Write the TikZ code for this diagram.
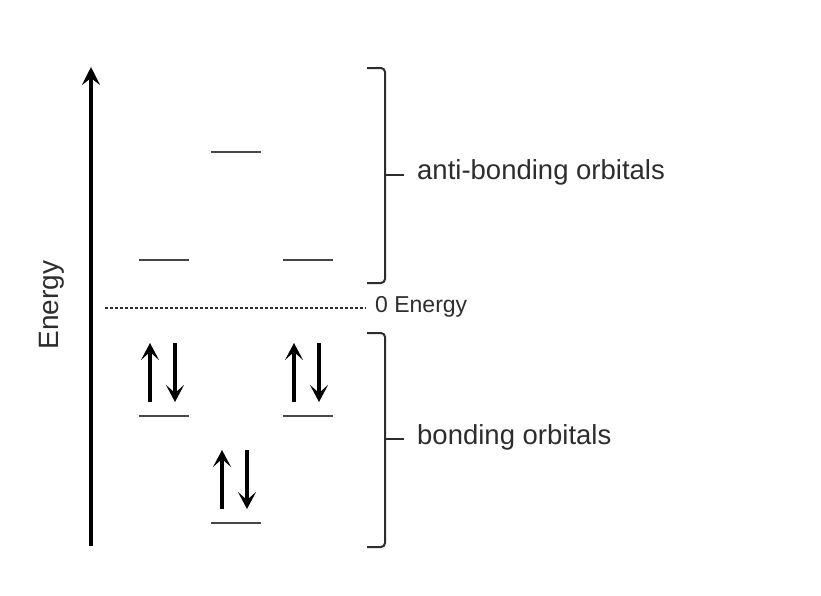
\documentclass[tikz,border=0pt]{standalone}
\usepackage{fontspec}
\setmainfont{Liberation Sans}
\usepackage{tikz}
\usetikzlibrary{arrows.meta, positioning, calc}
\definecolor{inkgray}{RGB}{45,45,45}
\definecolor{levelgray}{RGB}{70,70,70}

\begin{document}
\begin{tikzpicture}[
    x=1pt, y=-1pt,
    level/.style={rectangle, minimum width=50pt, minimum height=0pt, inner sep=0pt},
    lvl/.style={draw=levelgray, line width=2.6pt},
    spin/.style={-{Stealth[length=17pt, width=18pt, inset=8pt]}, line width=3.6pt, black},
    axis/.style={-{Stealth[length=18pt, width=18pt, inset=7pt]}, line width=3.2pt, black},
    bracket/.style={draw=inkgray, line width=2pt, rounded corners=4pt},
    label/.style={font=\fontsize{27.5}{32}\selectfont, text=inkgray, anchor=west, inner sep=0pt},
    zero/.style={font=\fontsize{23}{27}\selectfont, text=inkgray, anchor=west, inner sep=0pt}
]
\useasboundingbox (0,0) rectangle (821,595);

% Energy axis
\coordinate (axisbot) at (91,546);
\coordinate (axistop) at (91,67);
\draw[axis] (axisbot) -- (axistop);
\node[font=\fontsize{28}{32}\selectfont, text=inkgray, rotate=90, inner sep=0pt] (elabel) at (52,305) {Energy};

% zero line
\coordinate (zl) at (105,308);
\coordinate (zr) at (366,308);
\draw[inkgray, line width=1.3pt, dash pattern=on 3pt off 2pt] (zl) -- (zr);
\node[zero] (zero) at (375,307) {0 Energy};

% anti-bonding levels
\node[level] (ab1) at (236,152) {};
\node[level] (ab2) at (164,260) {};
\node[level] (ab3) at (308,260) {};

% bonding levels
\node[level] (b1) at (164,416) {};
\node[level] (b2) at (308,416) {};
\node[level] (b3) at (236,523) {};

\foreach \l in {ab1,ab2,ab3,b1,b2,b3}
    \draw[lvl] (\l.west) -- (\l.east);

% paired electrons
\foreach \l in {b1,b2,b3} {
    \draw[spin] ($(\l)+(-14,-14)$) -- ($(\l)+(-14,-73)$);
    \draw[spin] ($(\l)+(11,-73)$) -- ($(\l)+(11,-14)$);
}

% brackets
\draw[bracket] (367,68) -- (385,68) -- (385,283) -- (367,283);
\draw[inkgray, line width=2pt] (385,175) -- (404,175);
\node[label] (anti) at (417,172) {anti-bonding orbitals};

\draw[bracket] (367,333) -- (385,333) -- (385,547) -- (367,547);
\draw[inkgray, line width=2pt] (385,439) -- (404,439);
\node[label] (bond) at (417,437) {bonding orbitals};

\end{tikzpicture}
\end{document}
